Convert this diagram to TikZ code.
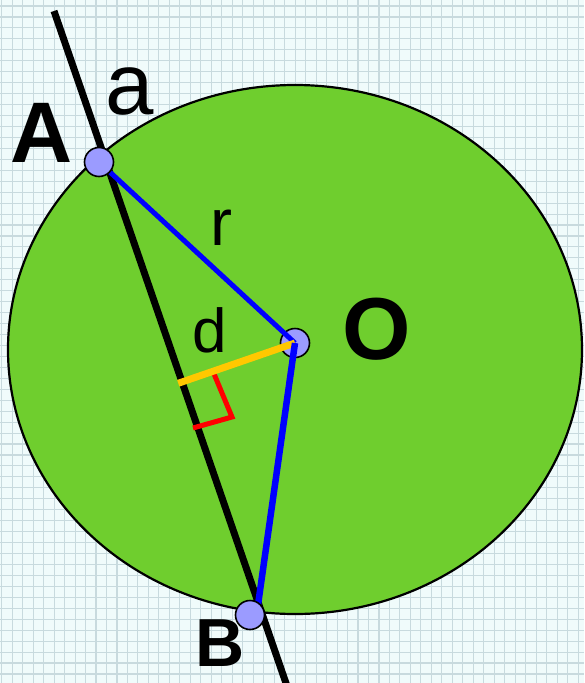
\documentclass[tikz,border=0pt]{standalone}
\usepackage{fontspec}
\setmainfont{Liberation Sans}
\usetikzlibrary{calc}
\definecolor{bgcol}{RGB}{240,251,251}
\definecolor{gridcol}{RGB}{200,218,222}
\definecolor{fieldgreen}{RGB}{111,206,46}
\definecolor{ptfill}{RGB}{155,155,255}
\definecolor{dgold}{RGB}{255,200,0}
\tikzset{
  gridline/.style={draw=gridcol, line width=1.1pt},
  pt/.style={circle, draw=black, line width=1.6pt, fill=ptfill, minimum size=29pt, inner sep=0pt},
  lbl/.style={inner sep=0pt, text=black},
}
\begin{document}
\begin{tikzpicture}[x=1pt,y=-1pt]
\useasboundingbox (0,0) rectangle (584,683);
\clip (0,0) rectangle (584,683);
\fill[bgcol] (0,0) rectangle (584,683);
\foreach \k in {0,...,56} {\draw[gridline] ({1.7+10.48*\k},0) -- ({1.7+10.48*\k},683);}
\foreach \k in {0,...,62} {\draw[gridline] (0,{6+10.95*\k}) -- (584,{6+10.95*\k});}
% circle (ellipse)
\draw[fill=fieldgreen, draw=black, line width=2.2pt] (295,349.5) ellipse [x radius=287pt, y radius=264.5pt];
% line a
\coordinate (L1) at (54,11);
\coordinate (L2) at (288,689);
\draw[line width=7pt] (L1) -- (L2);
% points
\node[pt] (O) at (295,343) {};
\coordinate (Bt) at (257,612);
\coordinate (F) at ($(L1)!(O)!(L2)$);
\coordinate (Fy) at ($(F)!-4pt!(O)$);
\coordinate (R1) at (212,369);
\coordinate (R2) at (232,417);
\coordinate (R3) at (193,428);
\draw[red, line width=5pt, line join=miter] (R1) -- (R2) -- (R3);
\draw[blue, line width=5pt] (99,162) -- (O.center);
\draw[dgold, line width=7pt] (O.center) -- (Fy);
\draw[blue, line width=6.5pt] (O.center) -- (Bt);
\node[pt] (A) at (99,162) {};
\node[pt] (B) at (250,615) {};
% labels
\node[lbl] (lA) at (42,133) {\fontsize{86}{86}\selectfont\bfseries A};
\node[lbl] (la) at (130,92) {\fontsize{87}{87}\selectfont a};
\node[lbl] (lr) at (221,228) {\fontsize{66}{66}\selectfont r};
\node[lbl] (ld) at (209.5,330) {\fontsize{62}{62}\selectfont d};
\node[lbl] (lO) at (377,329) {\fontsize{88}{88}\selectfont\bfseries O};
\node[lbl] (lB) at (220,643) {\fontsize{68}{68}\selectfont\bfseries B};
\end{tikzpicture}
\end{document}
